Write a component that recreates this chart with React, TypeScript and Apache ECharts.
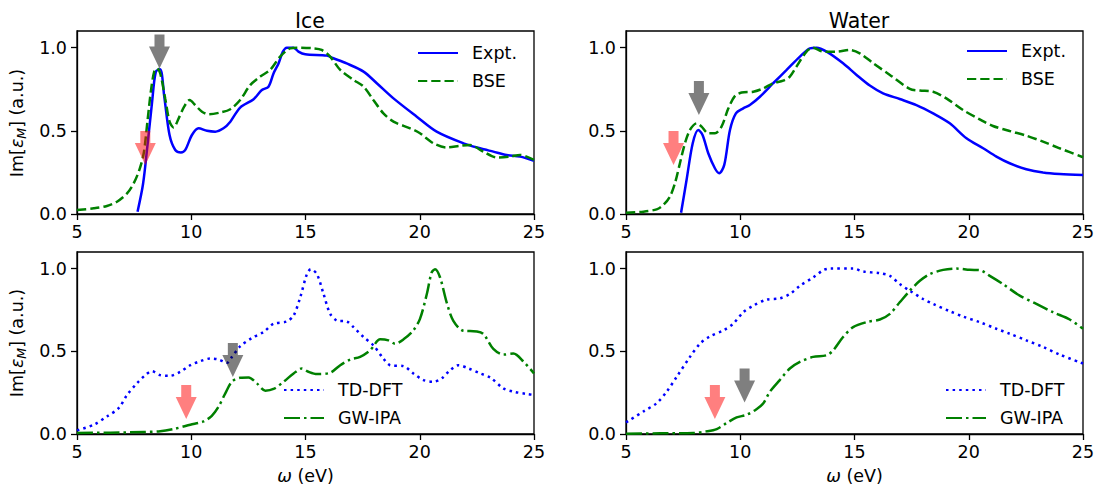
import React, { useEffect, useRef } from "react";
import * as echarts from "echarts";

// ---- data (x = ω in eV, y = normalized Im[ε_M]) ----
const iceExpt: [number, number][] = [
  [7.65, 0.014], [7.89, 0.18], [8.09, 0.42], [8.28, 0.665], [8.45, 0.856], [8.64, 0.87],
  [8.82, 0.705], [9.05, 0.475], [9.3, 0.385], [9.55, 0.37], [9.74, 0.385], [10.03, 0.475],
  [10.32, 0.515], [10.69, 0.5], [11.05, 0.495], [11.41, 0.515], [11.71, 0.555], [12.14, 0.64],
  [12.73, 0.69], [13.09, 0.745], [13.38, 0.765], [13.6, 0.845], [13.82, 0.905], [14.01, 0.976],
  [14.18, 1.0], [14.48, 1.0], [14.69, 0.976], [14.99, 0.96], [15.93, 0.952], [16.22, 0.936],
  [16.8, 0.905], [17.54, 0.856], [18.12, 0.786], [18.85, 0.695], [19.87, 0.585], [20.74, 0.495],
  [21.91, 0.425], [22.64, 0.395], [23.22, 0.375], [23.8, 0.355], [24.39, 0.345], [25, 0.32],
];
const iceBSE: [number, number][] = [
  [5, 0.024], [5.73, 0.034], [6.31, 0.048], [6.75, 0.074], [7.19, 0.124], [7.48, 0.184],
  [7.73, 0.265], [7.92, 0.365], [8.09, 0.565], [8.24, 0.745], [8.38, 0.856], [8.5, 0.876],
  [8.64, 0.846], [8.86, 0.695], [9.05, 0.555], [9.23, 0.52], [9.45, 0.575], [9.69, 0.645],
  [9.93, 0.685], [10.17, 0.655], [10.47, 0.615], [10.76, 0.6], [11.27, 0.61], [11.71, 0.63],
  [12.14, 0.685], [12.58, 0.775], [13.02, 0.826], [13.45, 0.866], [13.89, 0.946], [14.33, 0.996],
  [14.62, 1.0], [15.35, 0.996], [15.71, 0.986], [16.08, 0.946], [16.52, 0.866], [17.1, 0.806],
  [17.54, 0.766], [17.97, 0.685], [18.41, 0.605], [18.85, 0.555], [19.58, 0.515], [20.01, 0.485],
  [20.6, 0.425], [21.18, 0.4], [21.76, 0.41], [22.2, 0.415], [22.78, 0.375], [23.37, 0.34],
  [23.95, 0.345], [24.39, 0.355], [25, 0.325],
];
const waterExpt: [number, number][] = [
  [7.41, 0.008], [7.65, 0.204], [7.92, 0.425], [8.16, 0.505], [8.35, 0.475], [8.6, 0.365],
  [8.89, 0.275], [9.08, 0.245], [9.3, 0.295], [9.55, 0.505], [9.81, 0.605], [10.13, 0.635],
  [10.42, 0.655], [10.86, 0.705], [11.44, 0.786], [12.03, 0.866], [12.61, 0.946], [13.05, 0.996],
  [13.34, 1.0], [13.78, 0.976], [14.5, 0.906], [15.09, 0.836], [15.67, 0.772], [16.25, 0.725],
  [16.98, 0.691], [17.71, 0.655], [18.44, 0.605], [19.17, 0.545], [19.9, 0.455], [20.63, 0.395],
  [21.21, 0.345], [21.79, 0.305], [22.52, 0.269], [23.25, 0.249], [23.98, 0.24], [25, 0.234],
];
const waterBSE: [number, number][] = [
  [5, 0.008], [5.76, 0.014], [6.34, 0.028], [6.63, 0.054], [6.92, 0.104], [7.14, 0.184],
  [7.36, 0.305], [7.58, 0.425], [7.8, 0.505], [8.09, 0.545], [8.31, 0.525], [8.6, 0.485],
  [8.89, 0.485], [9.18, 0.525], [9.48, 0.635], [9.77, 0.71], [10.06, 0.73], [10.57, 0.735],
  [11.01, 0.755], [11.44, 0.786], [11.88, 0.802], [12.17, 0.826], [12.46, 0.886], [12.9, 0.976],
  [13.19, 1.0], [13.63, 0.976], [14.21, 0.976], [14.8, 0.986], [15.23, 0.966], [15.82, 0.906],
  [16.55, 0.836], [17.42, 0.752], [17.86, 0.742], [18.44, 0.735], [19.02, 0.695], [19.75, 0.625],
  [20.48, 0.569], [21.06, 0.529], [21.79, 0.499], [22.52, 0.471], [23.25, 0.435], [23.98, 0.395],
  [25, 0.341],
];
const iceTDDFT: [number, number][] = [
  [5, 0.022], [5.73, 0.056], [6.31, 0.106], [6.82, 0.156], [7.19, 0.236], [7.62, 0.306],
  [7.99, 0.356], [8.28, 0.38], [8.64, 0.356], [9.08, 0.352], [9.52, 0.376], [9.96, 0.416],
  [10.39, 0.44], [10.83, 0.456], [11.2, 0.45], [11.56, 0.43], [11.78, 0.466], [12.14, 0.53],
  [12.65, 0.58], [13.16, 0.616], [13.6, 0.666], [14.18, 0.68], [14.48, 0.716], [14.77, 0.826],
  [15.06, 0.966], [15.23, 0.996], [15.5, 0.966], [15.79, 0.846], [16.08, 0.726], [16.37, 0.686],
  [16.81, 0.68], [17.1, 0.646], [17.54, 0.586], [17.97, 0.536], [18.41, 0.456], [18.7, 0.416],
  [19.29, 0.41], [19.72, 0.366], [20.16, 0.326], [20.6, 0.316], [20.96, 0.336], [21.33, 0.386],
  [21.7, 0.416], [22.14, 0.396], [22.65, 0.366], [23.1, 0.34], [23.66, 0.276], [24.1, 0.256],
  [24.68, 0.242], [25, 0.236],
];
const iceGWIPA: [number, number][] = [
  [5, 0.006], [6.46, 0.008], [7.92, 0.012], [8.64, 0.016], [9.23, 0.03], [9.96, 0.056],
  [10.54, 0.076], [10.9, 0.11], [11.2, 0.166], [11.49, 0.246], [11.78, 0.316], [12.14, 0.34],
  [12.51, 0.342], [12.87, 0.306], [13.24, 0.262], [13.6, 0.272], [14.04, 0.316], [14.48, 0.366],
  [14.84, 0.396], [15.13, 0.376], [15.5, 0.362], [16.08, 0.37], [16.52, 0.416], [16.95, 0.45],
  [17.39, 0.466], [17.83, 0.506], [18.27, 0.572], [18.63, 0.566], [18.92, 0.546], [19.29, 0.572],
  [19.72, 0.626], [20.01, 0.696], [20.31, 0.846], [20.52, 0.976], [20.67, 0.996], [20.89, 0.946],
  [21.18, 0.794], [21.47, 0.684], [21.91, 0.624], [22.5, 0.62], [22.79, 0.604], [23.22, 0.514],
  [23.66, 0.48], [24.1, 0.486], [24.55, 0.436], [25, 0.366],
];
const waterTDDFT: [number, number][] = [
  [5, 0.07], [5.76, 0.136], [6.34, 0.186], [6.78, 0.256], [7.22, 0.346], [7.8, 0.466],
  [8.24, 0.546], [8.67, 0.59], [9.26, 0.626], [9.69, 0.666], [10.13, 0.736], [10.57, 0.776],
  [11.15, 0.812], [11.73, 0.82], [12.17, 0.846], [12.61, 0.896], [13.19, 0.946], [13.63, 0.99],
  [13.92, 1.0], [14.94, 1.0], [15.38, 0.982], [16.11, 0.972], [16.55, 0.956], [16.98, 0.906],
  [17.42, 0.866], [18, 0.816], [18.44, 0.786], [19.17, 0.742], [19.75, 0.71], [20.48, 0.676],
  [21.21, 0.636], [21.79, 0.606], [22.52, 0.566], [23.25, 0.526], [23.98, 0.48], [25, 0.426],
];
const waterGWIPA: [number, number][] = [
  [5, 0.002], [6.49, 0.004], [7.94, 0.006], [8.53, 0.016], [8.97, 0.03], [9.4, 0.066],
  [9.84, 0.1], [10.28, 0.116], [10.71, 0.15], [11.01, 0.186], [11.3, 0.256], [11.73, 0.326],
  [12.17, 0.396], [12.61, 0.436], [13.19, 0.466], [13.78, 0.476], [14.07, 0.506], [14.5, 0.586],
  [14.94, 0.646], [15.52, 0.676], [16.11, 0.692], [16.55, 0.726], [16.98, 0.796], [17.42, 0.866],
  [17.86, 0.926], [18.29, 0.966], [18.88, 0.992], [19.46, 1.0], [20.04, 0.992], [20.48, 0.99],
  [20.92, 0.956], [21.5, 0.906], [22.23, 0.836], [22.96, 0.786], [23.69, 0.736], [24.42, 0.692],
  [25, 0.636],
];

// arrow tips: [x, y] (grey = first, red = second)
const iceTopArrows: [number, number][] = [[8.61, 0.874], [7.99, 0.295]];
const waterTopArrows: [number, number][] = [[8.19, 0.595], [7.08, 0.295]];
const iceBottomArrows: [number, number][] = [[11.82, 0.344], [9.78, 0.09]];
const waterBottomArrows: [number, number][] = [[10.19, 0.19], [8.89, 0.09]];

const panelTitles = ["Ice", "Water"];
const xTicks = [5, 10, 15, 20, 25];
const yTicks = [0, 0.5, 1.0];
const yLabelText = "{n|Im[}{e|ε}{m|M}{n|] (a.u.)}";

const FONT = "DejaVu Sans";
const FS = 17.5;
const ARROW = "path://M5.5,0 L15.5,0 L15.5,12 L21,12 L10.5,34 L0,12 L5.5,12 Z";

const grids = [
  { left: 77, top: 31, width: 457, height: 183 },
  { left: 626, top: 31, width: 457, height: 183 },
  { left: 77, top: 252, width: 457, height: 182 },
  { left: 626, top: 252, width: 457, height: 182 },
];

function arrowMarks(arr: [number, number][]) {
  return {
    silent: true,
    symbol: ARROW,
    symbolSize: [21, 34],
    symbolOffset: [0, -17],
    label: { show: false },
    data: arr.map((p, i) => ({
      coord: p,
      itemStyle: { color: i === 0 ? "#000000" : "#ff0000", opacity: 0.5 },
    })),
  };
}

export default function App() {
  const ref = useRef<HTMLDivElement>(null);
  useEffect(() => {
    if (!ref.current) return;
    const chart = echarts.init(ref.current, null, { renderer: "svg" });

    const txt = { fontSize: FS, color: "#000", fontFamily: FONT };

    const xAxes = grids.map((_, i) => ({
      type: "value",
      gridIndex: i,
      min: 5,
      max: 25,
      interval: 5,
      axisLine: { show: true, lineStyle: { color: "#000", width: 1.3 } },
      axisTick: { show: true, length: 6, lineStyle: { color: "#000", width: 1.3 }, customValues: xTicks },
      axisLabel: { ...txt, margin: 9, customValues: xTicks },
      splitLine: { show: false },
      name: i >= 2 ? "{w|ω}{n| (eV)}" : "",
      nameLocation: "middle",
      nameGap: 33,
      nameTextStyle: {
        ...txt,
        rich: { w: { ...txt, fontStyle: "italic" }, n: { ...txt } },
      },
    }));

    const yAxes = grids.map((_, i) => ({
      type: "value",
      gridIndex: i,
      min: 0,
      max: 1.1,
      interval: 0.5,
      axisLine: { show: true, lineStyle: { color: "#000", width: 1.3 } },
      axisTick: { show: true, length: 6, lineStyle: { color: "#000", width: 1.3 }, customValues: yTicks },
      axisLabel: {
        ...txt,
        margin: 10,
        customValues: yTicks,
        formatter: (v: number) => v.toFixed(1),
      },
      splitLine: { show: false },
    }));

    const mk = (
      name: string,
      data: [number, number][],
      idx: number,
      color: string,
      type: any,
      marks?: [number, number][]
    ) => ({
      type: "line",
      name,
      xAxisIndex: idx,
      yAxisIndex: idx,
      data,
      symbol: "none",
      showSymbol: false,
      smooth: 0.3,
      lineStyle: { color, width: 2.5, type, cap: "butt" },
      itemStyle: { color },
      z: 2,
      markPoint: marks ? arrowMarks(marks) : undefined,
    });

    const dashed = [9.25, 4];
    const dotted = [2.5, 4.1];
    const dashdot = [16, 4, 2.5, 4];

    const series = [
      mk("Expt.", iceExpt, 0, "#0000ff", "solid", iceTopArrows),
      mk("BSE", iceBSE, 0, "#008000", dashed),
      mk("Expt.", waterExpt, 1, "#0000ff", "solid", waterTopArrows),
      mk("BSE", waterBSE, 1, "#008000", dashed),
      mk("TD-DFT", iceTDDFT, 2, "#0000ff", dotted, iceBottomArrows),
      mk("GW-IPA", iceGWIPA, 2, "#008000", dashdot),
      mk("TD-DFT", waterTDDFT, 3, "#0000ff", dotted, waterBottomArrows),
      mk("GW-IPA", waterGWIPA, 3, "#008000", dashdot),
    ];

    const legendBase = {
      orient: "vertical",
      itemWidth: 40,
      itemHeight: 14,
      itemGap: 10,
      padding: 0,
      selectedMode: false,
      itemStyle: { opacity: 0, borderWidth: 0 },
      textStyle: { ...txt, padding: [0, 0, 0, 9] },
    };

    const yLabel = (cy: number) => ({
      type: "text",
      x: 17,
      y: cy,
      rotation: Math.PI / 2,
      silent: true,
      style: {
        text: yLabelText,
        align: "center",
        verticalAlign: "middle",
        fontSize: FS,
        fontFamily: FONT,
        fill: "#000",
        rich: {
          n: { fontSize: FS, fontFamily: FONT, fill: "#000", color: "#000" },
          e: { fontSize: FS, fontFamily: FONT, fontStyle: "italic", fill: "#000", color: "#000" },
          m: { fontSize: 12.5, fontFamily: FONT, fontStyle: "italic", fill: "#000", color: "#000", padding: [8, 0, 0, 0] },
        },
      },
    });

    chart.setOption({
      animation: false,
      backgroundColor: "#ffffff",
      textStyle: { fontFamily: FONT },
      title: panelTitles.map((t, i) => ({
        text: t,
        left: i === 0 ? 305 : 854,
        top: 5,
        textAlign: "center",
        textStyle: { fontSize: 20.5, fontWeight: "normal", color: "#000", fontFamily: FONT },
      })),
      grid: grids.map((g) => ({ ...g, show: true, borderColor: "#000", borderWidth: 1.3, backgroundColor: "transparent" })),
      xAxis: xAxes,
      yAxis: yAxes,
      legend: [
        { ...legendBase, left: 417, top: 44, data: ["Expt.", "BSE"] },
        { ...legendBase, left: 966, top: 42, data: ["Expt.", "BSE"] },
        { ...legendBase, left: 283, top: 381, data: ["TD-DFT", "GW-IPA"] },
        { ...legendBase, left: 945, top: 381, data: ["TD-DFT", "GW-IPA"] },
      ],
      graphic: [yLabel(123), yLabel(343)],
      series,
    });
    return () => chart.dispose();
  }, []);
  return (
    <div
      ref={ref}
      style={{ position: "fixed", left: 0, top: 0, width: 1101, height: 495, background: "#fff" }}
    />
  );
}
